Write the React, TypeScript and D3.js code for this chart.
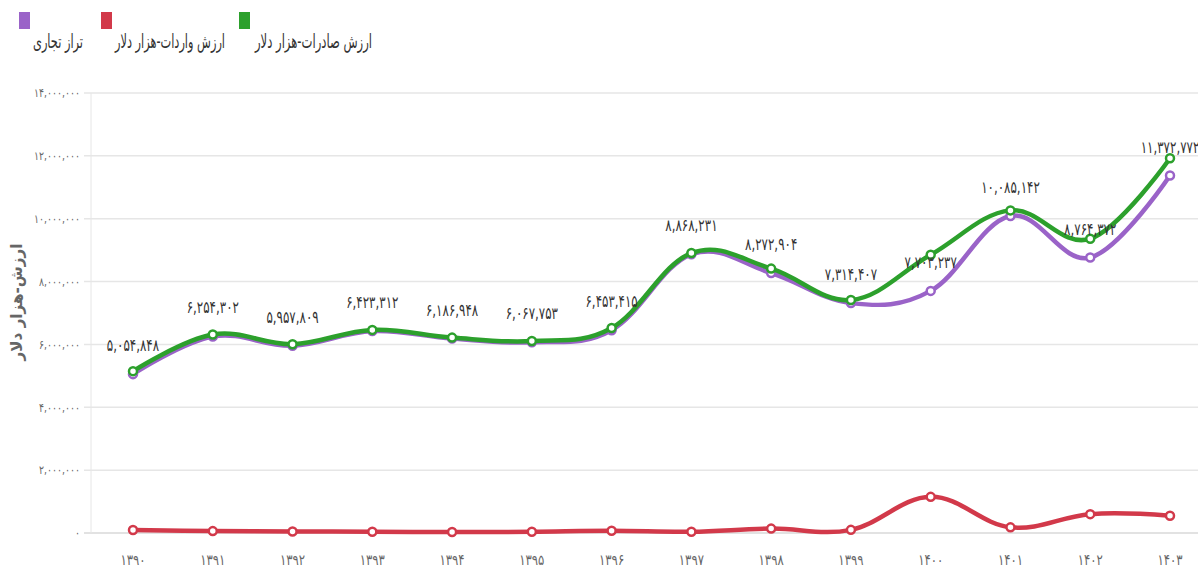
import React from 'react';
import * as d3 from 'd3';

const years = ['1390', '1391', '1392', '1393', '1394', '1395', '1396', '1397', '1398', '1399', '1400', '1401', '1402', '1403'];
// ارزش صادرات (هزار دلار)
const exportValues = [5150000, 6314000, 6008000, 6463000, 6217000, 6108000, 6523000, 8908000, 8413000, 7414000, 8853000, 10265000, 9364000, 11923000];
// ارزش واردات (هزار دلار)
const importValues = [95000, 60000, 50000, 40000, 30000, 40000, 70000, 40000, 140000, 100000, 1150000, 180000, 600000, 550000];
// تراز تجاری (labelled)
const balanceValues = [5054848, 6254302, 5957809, 6423312, 6186948, 6067753, 6453415, 8868231, 8272904, 7314407, 7703237, 10085142, 8764372, 11372772];
const yTicks = [0, 2000000, 4000000, 6000000, 8000000, 10000000, 12000000, 14000000];

const series = [
  { name: 'تراز تجاری', color: '#9a63c8', values: balanceValues },
  { name: 'ارزش واردات-هزار دلار', color: '#d2394a', values: importValues },
  { name: 'ارزش صادرات-هزار دلار', color: '#2ca02c', values: exportValues },
];

const W = 1198;
const H = 567;
const FONT = '"DejaVu Sans", sans-serif';

const faDigits = (s: string) => s.replace(/[0-9]/g, d => '۰۱۲۳۴۵۶۷۸۹'[+d]);
const fmt = (v: number) => faDigits(d3.format(',')(v));

const App: React.FC = () => {
  const x = d3.scalePoint<string>().domain(years).range([133, 1170]);
  const y = d3.scaleLinear().domain([0, 14000000]).range([533, 93]);

  const line = d3.line<number>()
    .x((_, i) => x(years[i])!)
    .y(d => y(d))
    .curve(d3.curveCardinal.tension(-0.1));

  // legend items: square left, text span [tx, tx + tw]
  const legend = [
    { s: series[0], sq: 19, tx: 33, tw: 50 },
    { s: series[1], sq: 101, tx: 115, tw: 110 },
    { s: series[2], sq: 239, tx: 255, tw: 117 },
  ];

  return (
    <svg width={W} height={H} style={{ position: 'absolute', left: 0, top: 0, background: '#fff' }} fontFamily={FONT}>
      {/* legend */}
      {legend.map(l => (
        <g key={l.s.name}>
          <rect x={l.sq} y={12} width={11} height={17} fill={l.s.color} />
          <g transform={`translate(${l.tx},48) scale(1,1.2)`}>
            <text fontSize={16} fill="#333" textAnchor="start"
              textLength={l.tw} lengthAdjust="spacingAndGlyphs">
              {l.s.name}
            </text>
          </g>
        </g>
      ))}

      {/* grid */}
      {yTicks.map(t => (
        <g key={t}>
          <line x1={84} x2={W} y1={y(t)} y2={y(t)} stroke={t === 0 ? '#d8d8d8' : '#e6e6e6'} strokeWidth={1.5} />
          <g transform={`translate(80,${y(t)}) scale(0.85,1.1)`}>
            <text dy="0.35em" fontSize={11} fill="#666" textAnchor="end">{fmt(t)}</text>
          </g>
        </g>
      ))}
      <line x1={91} x2={91} y1={y(14000000)} y2={y(0)} stroke="#e6e6e6" strokeWidth={1} />

      {/* y title */}
      <text transform={`translate(22,302) rotate(-90)`} fontSize={16} fontWeight="bold" fill="#666" textAnchor="middle"
        textLength={117} lengthAdjust="spacingAndGlyphs">
        ارزش-هزار دلار
      </text>

      {/* x labels */}
      {years.map(yr => (
        <g key={yr} transform={`translate(${x(yr)},565) scale(0.9,1.15)`}>
          <text fontSize={13} fill="#666" textAnchor="middle">{faDigits(yr)}</text>
        </g>
      ))}

      {/* series */}
      {series.map(s => (
        <g key={s.name}>
          <path d={line(s.values) || ''} fill="none" stroke={s.color} strokeWidth={4.5} strokeLinejoin="round" strokeLinecap="round" />
          {s.values.map((v, i) => (
            <circle key={i} cx={x(years[i])} cy={y(v)} r={4} fill="#fff" stroke={s.color} strokeWidth={2.5} />
          ))}
        </g>
      ))}

      {/* data labels (trade balance) */}
      {balanceValues.map((v, i) => {
        const cx = x(years[i])!;
        const overflow = cx + 26 > W;
        return (
          <g key={i} transform={`translate(${overflow ? W - 1 : cx},${y(v) - 23}) scale(0.85,1.2)`}>
            <text fontSize={14} fill="#333" textAnchor={overflow ? 'end' : 'middle'}>{fmt(v)}</text>
          </g>
        );
      })}
    </svg>
  );
};

export default App;
